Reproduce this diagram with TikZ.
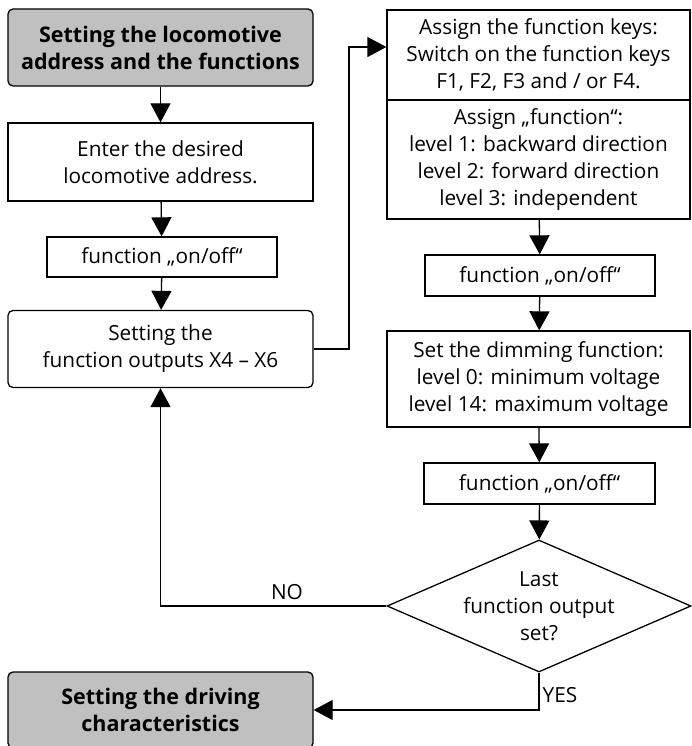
\documentclass[tikz,border=0pt]{standalone}
\usepackage{fontspec}
\setmainfont{Open Sans}
\usepackage{tikz}
\usetikzlibrary{shapes.geometric, arrows.meta}
\definecolor{boxgray}{RGB}{192,192,192}

\begin{document}
\begin{tikzpicture}[x=1pt, y=-1pt, line width=1.3pt,
    txt/.style={font=\fontsize{20.8}{27}\selectfont, align=center, inner sep=0pt},
    box/.style={draw, txt},
    gbox/.style={box, rounded corners=5pt, fill=boxgray,
      font=\bfseries\fontsize{21.5}{27}\selectfont},
    rbox/.style={box, rounded corners=5pt},
    decision/.style={draw, diamond, inner sep=0pt},
    flow/.style={-{Triangle[length=19pt, width=20pt]}}]
  \useasboundingbox (0,0) rectangle (691,746);
  % left column
  \node[gbox, minimum width=305, minimum height=77] (title) at (160.5,47.5)
    {Setting the locomotive\\address and the functions};
  \node[box, minimum width=305, minimum height=78] (enter) at (160.5,162)
    {Enter the desired\\locomotive address.};
  \node[box, minimum width=230, minimum height=40] (onoffA) at (162,257)
    {function „on/off“};
  \node[rbox, minimum width=305, minimum height=77] (outputs) at (160.5,349)
    {Setting the\\function outputs X4 – X6};
  \node[gbox, minimum width=305, minimum height=76] (drive) at (160.5,710)
    {Setting the driving\\characteristics};
  % right column
  \node[box, minimum width=303, minimum height=90] (keys) at (538.5,55)
    {Assign the function keys:\\Switch on the function keys\\F1, F2, F3 and / or F4.};
  \node[box, minimum width=303, minimum height=119] (assign) at (538.5,159.5)
    {Assign „function“:\\level 1: backward direction\\level 2: forward direction\\level 3: independent};
  \node[box, minimum width=230, minimum height=41] (onoffB) at (540,275.5)
    {function „on/off“};
  \node[box, minimum width=303, minimum height=96] (dimming) at (538.5,379)
    {Set the dimming function:\\level 0: minimum voltage\\level 14: maximum voltage};
  \node[box, minimum width=231, minimum height=41] (onoffC) at (539.5,483.5)
    {function „on/off“};
  \node[decision, minimum width=304, minimum height=132] (decide) at (539,606) {};
  \node[txt] (question) at (decide) {Last\\function output\\set?};
  \coordinate (turn) at (349,47);

  \draw[flow] (title) -- (enter);
  \draw[flow] (enter) -- (onoffA);
  \draw[flow] (onoffA) -- (outputs);
  \draw[flow] (outputs.east) -| (turn) -- (turn -| keys.west);
  \draw[flow] (assign) -- (onoffB);
  \draw[flow] (onoffB) -- (dimming);
  \draw[flow] (dimming) -- (onoffC);
  \draw[flow] (onoffC) -- (decide);
  \draw[flow] (decide.west) -| node[txt, pos=0.22, above=6pt] (no) {NO} (outputs.south);
  \draw[flow] (decide.south) |- node[txt, pos=0.3, right=3pt] (yes) {YES} (drive.east);
\end{tikzpicture}
\end{document}
